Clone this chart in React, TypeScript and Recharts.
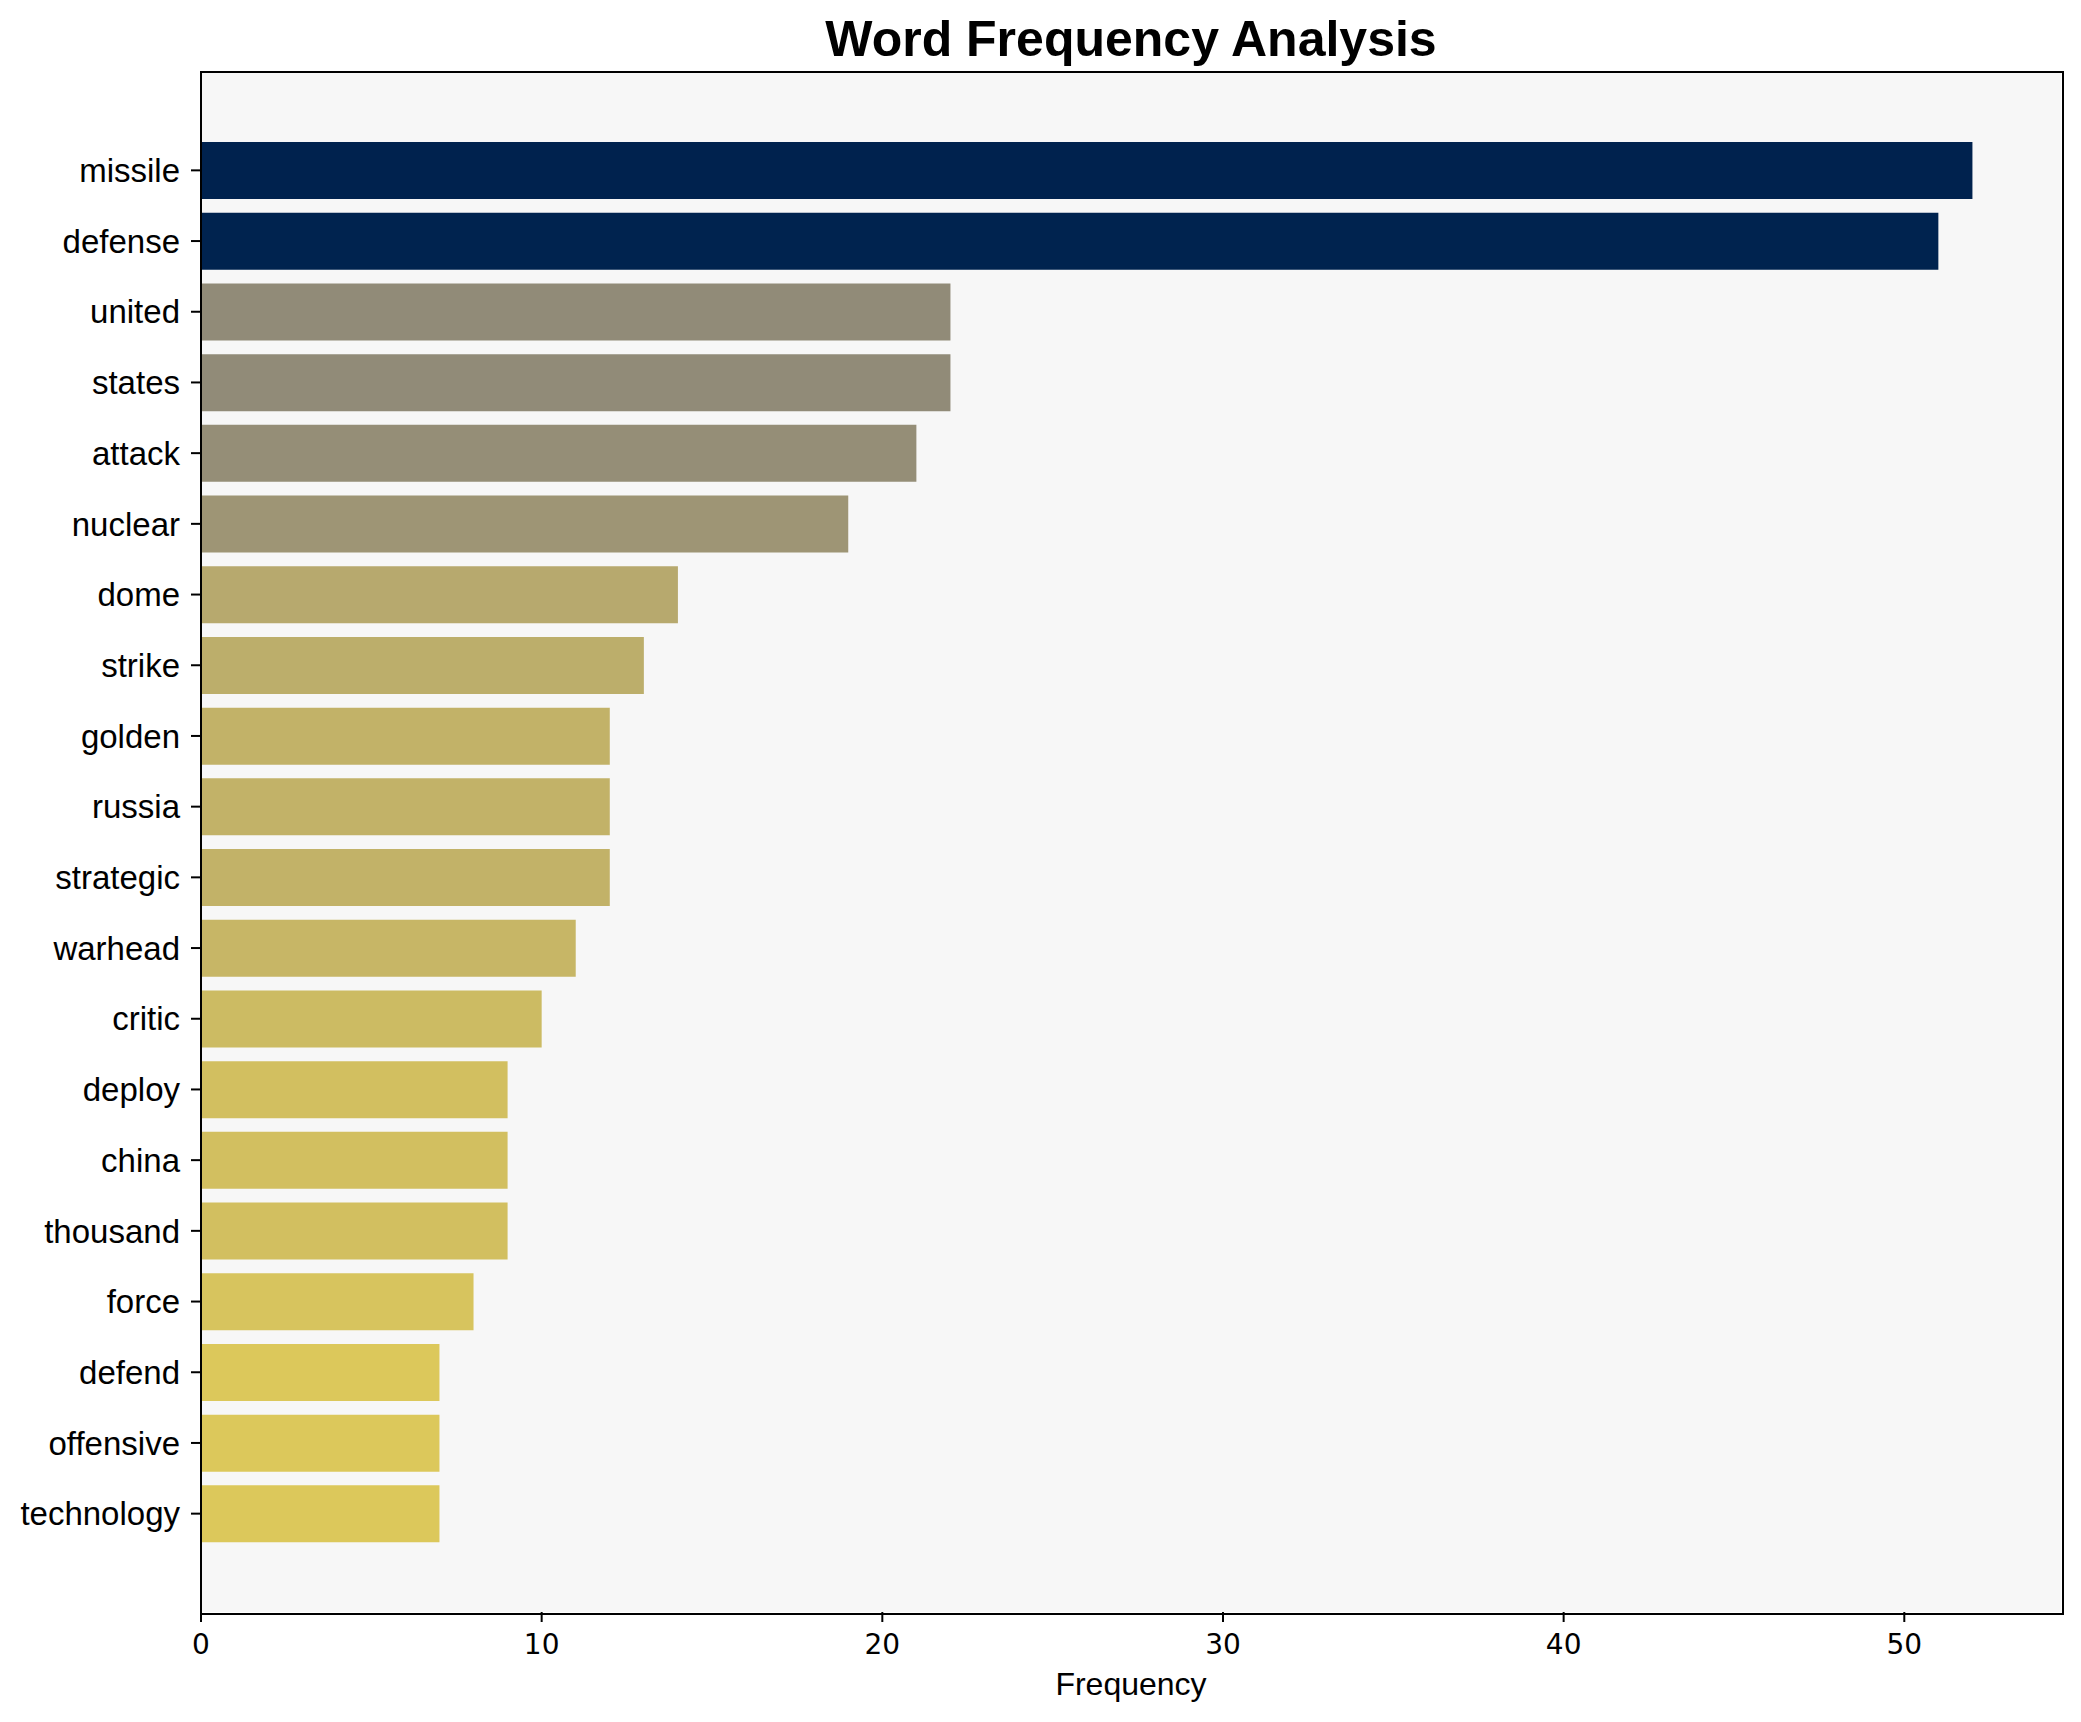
import { Bar, BarChart, Cell, XAxis, YAxis } from "recharts";

const WORDS = [
  "missile", "defense", "united", "states", "attack", "nuclear", "dome", "strike",
  "golden", "russia", "strategic", "warhead", "critic", "deploy", "china",
  "thousand", "force", "defend", "offensive", "technology",
];
const COUNTS = [52, 51, 22, 22, 21, 19, 14, 13, 12, 12, 12, 11, 10, 9, 9, 9, 8, 7, 7, 7];
const X_TICKS = [0, 10, 20, 30, 40, 50];

const W = 2081;
const H = 1722;
const PLOT = { left: 201, top: 72, right: 2061, bottom: 1612 };
const SANS = '"Liberation Sans", Arial, sans-serif';

// reversed cividis, sampled by eye
const STOPS: [number, [number, number, number]][] = [
  [0.0, [0, 34, 78]],
  [0.03, [0, 35, 80]],
  [0.5, [124, 123, 120]],
  [0.577, [145, 139, 120]],
  [0.635, [158, 149, 117]],
  [0.73, [183, 169, 110]],
  [0.865, [220, 200, 91]],
  [1.0, [254, 232, 56]],
];

function cividisR(frac: number) {
  const t = Math.min(1, Math.max(0, 1 - frac));
  for (let i = 1; i < STOPS.length; i++) {
    const [t1, c1] = STOPS[i];
    const [t0, c0] = STOPS[i - 1];
    if (t <= t1) {
      const k = (t - t0) / (t1 - t0);
      const c = c0.map((v, j) => Math.round(v + (c1[j] - v) * k));
      return `rgb(${c[0]},${c[1]},${c[2]})`;
    }
  }
  return "rgb(254,232,56)";
}

export default function App() {
  const data = WORDS.map((word, i) => ({ word, count: COUNTS[i] }));
  const maxCount = Math.max(...COUNTS);

  return (
    <div style={{ position: "absolute", left: 0, top: 0, width: W, height: H, background: "#fff" }}>
      <div
        style={{
          position: "absolute",
          left: PLOT.left,
          top: PLOT.top,
          width: PLOT.right - PLOT.left,
          height: PLOT.bottom - PLOT.top,
          background: "#f7f7f7",
        }}
      />
      <div
        style={{
          position: "absolute",
          left: PLOT.left,
          width: PLOT.right - PLOT.left,
          top: 14,
          textAlign: "center",
          fontFamily: SANS,
          fontWeight: "bold",
          fontSize: 50,
          lineHeight: 1,
          color: "#000",
        }}
      >
        Word Frequency Analysis
      </div>
      <div style={{ position: "absolute", left: 0, top: 0 }}>
        <BarChart
          width={W}
          height={H}
          data={data}
          layout="vertical"
          barCategoryGap="10%"
          margin={{ top: PLOT.top, right: W - PLOT.right, left: PLOT.left - 190, bottom: H - PLOT.bottom - 60 }}
        >
          <XAxis
            type="number"
            domain={[0, 54.6]}
            ticks={X_TICKS}
            height={60}
            axisLine={false}
            tickSize={10}
            tickMargin={12}
            tickLine={{ stroke: "#000", strokeWidth: 2 }}
            tick={{ fontFamily: '"DejaVu Sans"', fontSize: 28, fill: "#000" }}
          />
          <YAxis
            type="category"
            dataKey="word"
            width={190}
            interval={0}
            axisLine={false}
            padding={{ top: 63, bottom: 63 }}
            tickSize={10}
            tickMargin={11}
            tickLine={{ stroke: "#000", strokeWidth: 2 }}
            tick={{ fontFamily: SANS, fontSize: 33, fill: "#000" }}
          />
          <Bar dataKey="count" isAnimationActive={false}>
            {data.map((d) => (
              <Cell key={d.word} fill={cividisR(d.count / maxCount)} />
            ))}
          </Bar>
        </BarChart>
      </div>
      <div
        style={{
          position: "absolute",
          left: PLOT.left - 1,
          top: PLOT.top - 1,
          width: PLOT.right - PLOT.left,
          height: PLOT.bottom - PLOT.top,
          border: "2px solid #000",
          pointerEvents: "none",
        }}
      />
      <div
        style={{
          position: "absolute",
          left: PLOT.left,
          width: PLOT.right - PLOT.left,
          top: 1668,
          textAlign: "center",
          fontFamily: SANS,
          fontSize: 32,
          lineHeight: 1,
          color: "#000",
        }}
      >
        Frequency
      </div>
    </div>
  );
}
